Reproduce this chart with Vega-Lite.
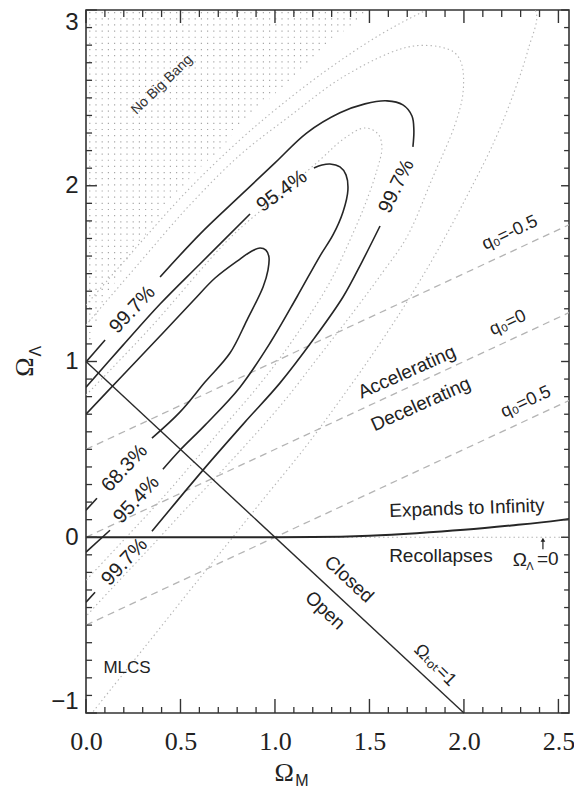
{
  "$schema": "https://vega.github.io/schema/vega-lite/v6.json",
  "width": 483,
  "height": 703,
  "autosize": {"type": "none"},
  "padding": {"left": 86, "top": 10, "right": 5, "bottom": 77},
  "background": "white",
  "config": {"view": {"stroke": "#333", "strokeWidth": 1.6}, "font": "Liberation Sans"},
  "resolve": {"axis": {"x": "independent", "y": "independent"}},
  "datasets": {
    "xmaj": [{"v": 0}, {"v": 0.5}, {"v": 1}, {"v": 1.5}, {"v": 2}, {"v": 2.5}],
    "xmin": [{"v": 0.1}, {"v": 0.2}, {"v": 0.3}, {"v": 0.4}, {"v": 0.6}, {"v": 0.7}, {"v": 0.8}, {"v": 0.9}, {"v": 1.1}, {"v": 1.2}, {"v": 1.3}, {"v": 1.4}, {"v": 1.6}, {"v": 1.7}, {"v": 1.8}, {"v": 1.9}, {"v": 2.1}, {"v": 2.2}, {"v": 2.3}, {"v": 2.4}],
    "ymaj": [{"v": -1}, {"v": 0}, {"v": 1}, {"v": 2}, {"v": 3}],
    "ymin": [{"v": -0.9}, {"v": -0.8}, {"v": -0.7}, {"v": -0.6}, {"v": -0.5}, {"v": -0.4}, {"v": -0.3}, {"v": -0.2}, {"v": -0.1}, {"v": 0.1}, {"v": 0.2}, {"v": 0.3}, {"v": 0.4}, {"v": 0.5}, {"v": 0.6}, {"v": 0.7}, {"v": 0.8}, {"v": 0.9}, {"v": 1.1}, {"v": 1.2}, {"v": 1.3}, {"v": 1.4}, {"v": 1.5}, {"v": 1.6}, {"v": 1.7}, {"v": 1.8}, {"v": 1.9}, {"v": 2.1}, {"v": 2.2}, {"v": 2.3}, {"v": 2.4}, {"v": 2.5}, {"v": 2.6}, {"v": 2.7}, {"v": 2.8}, {"v": 2.9}],
    "stipple": [
      {"y": 2.985, "xs": 0, "xe": 1.474}, {"y": 2.95, "xs": 0, "xe": 1.437}, {"y": 2.915, "xs": 0, "xe": 1.401}, {"y": 2.88, "xs": 0, "xe": 1.364},
      {"y": 2.845, "xs": 0, "xe": 1.327}, {"y": 2.81, "xs": 0, "xe": 1.291}, {"y": 2.775, "xs": 0, "xe": 1.254}, {"y": 2.74, "xs": 0, "xe": 1.217},
      {"y": 2.705, "xs": 0, "xe": 1.18}, {"y": 2.67, "xs": 0, "xe": 1.145}, {"y": 2.635, "xs": 0, "xe": 1.11}, {"y": 2.6, "xs": 0, "xe": 1.075},
      {"y": 2.565, "xs": 0, "xe": 1.04}, {"y": 2.53, "xs": 0, "xe": 1.005}, {"y": 2.495, "xs": 0, "xe": 0.97}, {"y": 2.46, "xs": 0, "xe": 0.935},
      {"y": 2.425, "xs": 0, "xe": 0.9}, {"y": 2.39, "xs": 0, "xe": 0.866}, {"y": 2.355, "xs": 0, "xe": 0.835}, {"y": 2.32, "xs": 0, "xe": 0.803},
      {"y": 2.285, "xs": 0, "xe": 0.772}, {"y": 2.25, "xs": 0, "xe": 0.743}, {"y": 2.215, "xs": 0, "xe": 0.713}, {"y": 2.18, "xs": 0, "xe": 0.68},
      {"y": 2.145, "xs": 0, "xe": 0.645}, {"y": 2.11, "xs": 0, "xe": 0.61}, {"y": 2.075, "xs": 0, "xe": 0.578}, {"y": 2.04, "xs": 0, "xe": 0.546},
      {"y": 2.005, "xs": 0, "xe": 0.515}, {"y": 1.97, "xs": 0, "xe": 0.486}, {"y": 1.935, "xs": 0, "xe": 0.458}, {"y": 1.9, "xs": 0, "xe": 0.43},
      {"y": 1.865, "xs": 0, "xe": 0.407}, {"y": 1.83, "xs": 0, "xe": 0.385}, {"y": 1.795, "xs": 0, "xe": 0.362}, {"y": 1.76, "xs": 0, "xe": 0.339},
      {"y": 1.725, "xs": 0, "xe": 0.316}, {"y": 1.69, "xs": 0, "xe": 0.294}, {"y": 1.655, "xs": 0, "xe": 0.271}, {"y": 1.62, "xs": 0, "xe": 0.248},
      {"y": 1.585, "xs": 0, "xe": 0.227}, {"y": 1.55, "xs": 0, "xe": 0.208}, {"y": 1.515, "xs": 0, "xe": 0.188}, {"y": 1.48, "xs": 0, "xe": 0.169},
      {"y": 1.445, "xs": 0, "xe": 0.15}, {"y": 1.41, "xs": 0, "xe": 0.131}, {"y": 1.375, "xs": 0, "xe": 0.114}, {"y": 1.34, "xs": 0, "xe": 0.098},
      {"y": 1.305, "xs": 0, "xe": 0.082}, {"y": 1.27, "xs": 0, "xe": 0.07}, {"y": 1.235, "xs": 0, "xe": 0.057}, {"y": 1.2, "xs": 0, "xe": 0.045},
      {"y": 1.165, "xs": 0, "xe": 0.036}, {"y": 1.13, "xs": 0, "xe": 0.03}
    ],
    "qlines": [
      {"x": 0, "y": 0.5, "x2": 2.556, "y2": 1.778},
      {"x": 0, "y": 0, "x2": 2.556, "y2": 1.278},
      {"x": 0, "y": -0.5, "x2": 2.556, "y2": 0.778}
    ],
    "flat": [
      {"x": 0, "y": 1, "x2": 2, "y2": -1}
    ],
    "zerodot": [
      {"x": 1.0, "y": 0, "x2": 2.556, "y2": 0}
    ],
    "arrow": [
      {"x": 2.418, "y": -0.068, "y2": -0.014}
    ],
    "solid": [
      {"seg": "o1", "o": 1, "x": 0, "y": 0.997}, {"seg": "o1", "o": 2, "x": 0.101, "y": 1.122},
      {"seg": "o2", "o": 1, "x": 0.392, "y": 1.481}, {"seg": "o2", "o": 2, "x": 0.603, "y": 1.725},
      {"seg": "o2", "o": 3, "x": 0.815, "y": 1.942}, {"seg": "o2", "o": 4, "x": 1.0, "y": 2.13},
      {"seg": "o2", "o": 5, "x": 1.169, "y": 2.301}, {"seg": "o2", "o": 6, "x": 1.344, "y": 2.415},
      {"seg": "o2", "o": 7, "x": 1.476, "y": 2.466}, {"seg": "o2", "o": 8, "x": 1.593, "y": 2.483},
      {"seg": "o2", "o": 9, "x": 1.677, "y": 2.46}, {"seg": "o2", "o": 10, "x": 1.725, "y": 2.397},
      {"seg": "o2", "o": 11, "x": 1.735, "y": 2.318}, {"seg": "o2", "o": 12, "x": 1.73, "y": 2.221},
      {"seg": "o3", "o": 1, "x": 1.556, "y": 1.771}, {"seg": "o3", "o": 2, "x": 1.46, "y": 1.566},
      {"seg": "o3", "o": 3, "x": 1.36, "y": 1.367}, {"seg": "o3", "o": 4, "x": 1.201, "y": 1.122},
      {"seg": "o3", "o": 5, "x": 1.026, "y": 0.877}, {"seg": "o3", "o": 6, "x": 0.841, "y": 0.655},
      {"seg": "o3", "o": 7, "x": 0.619, "y": 0.382}, {"seg": "o3", "o": 8, "x": 0.349, "y": 0.034},
      {"seg": "o4", "o": 1, "x": 0.048, "y": -0.313}, {"seg": "o4", "o": 2, "x": 0, "y": -0.37},
      {"seg": "m1", "o": 1, "x": 0, "y": 0.854}, {"seg": "m1", "o": 2, "x": 0.196, "y": 1.093},
      {"seg": "m1", "o": 3, "x": 0.392, "y": 1.327}, {"seg": "m1", "o": 4, "x": 0.603, "y": 1.555},
      {"seg": "m1", "o": 5, "x": 0.868, "y": 1.839},
      {"seg": "m2", "o": 1, "x": 1.206, "y": 2.101}, {"seg": "m2", "o": 2, "x": 1.249, "y": 2.118},
      {"seg": "m2", "o": 3, "x": 1.291, "y": 2.124}, {"seg": "m2", "o": 4, "x": 1.344, "y": 2.107},
      {"seg": "m2", "o": 5, "x": 1.376, "y": 2.062}, {"seg": "m2", "o": 6, "x": 1.386, "y": 1.976},
      {"seg": "m2", "o": 7, "x": 1.36, "y": 1.851}, {"seg": "m2", "o": 8, "x": 1.307, "y": 1.72},
      {"seg": "m2", "o": 9, "x": 1.238, "y": 1.6}, {"seg": "m2", "o": 10, "x": 1.116, "y": 1.367},
      {"seg": "m2", "o": 11, "x": 0.974, "y": 1.105}, {"seg": "m2", "o": 12, "x": 0.815, "y": 0.854},
      {"seg": "m2", "o": 13, "x": 0.63, "y": 0.638}, {"seg": "m2", "o": 14, "x": 0.497, "y": 0.495},
      {"seg": "m2", "o": 15, "x": 0.407, "y": 0.387},
      {"seg": "m3", "o": 1, "x": 0.127, "y": 0.04}, {"seg": "m3", "o": 2, "x": 0, "y": -0.085},
      {"seg": "i1", "o": 1, "x": 0, "y": 0.7}, {"seg": "i1", "o": 2, "x": 0.18, "y": 0.905},
      {"seg": "i1", "o": 3, "x": 0.392, "y": 1.145}, {"seg": "i1", "o": 4, "x": 0.566, "y": 1.344},
      {"seg": "i1", "o": 5, "x": 0.683, "y": 1.475}, {"seg": "i1", "o": 6, "x": 0.815, "y": 1.583},
      {"seg": "i1", "o": 7, "x": 0.878, "y": 1.629}, {"seg": "i1", "o": 8, "x": 0.921, "y": 1.646},
      {"seg": "i1", "o": 9, "x": 0.952, "y": 1.634}, {"seg": "i1", "o": 10, "x": 0.968, "y": 1.595},
      {"seg": "i1", "o": 11, "x": 0.963, "y": 1.52}, {"seg": "i1", "o": 12, "x": 0.937, "y": 1.424},
      {"seg": "i1", "o": 13, "x": 0.852, "y": 1.236}, {"seg": "i1", "o": 14, "x": 0.762, "y": 1.048},
      {"seg": "i1", "o": 15, "x": 0.63, "y": 0.883}, {"seg": "i1", "o": 16, "x": 0.497, "y": 0.712},
      {"seg": "i1", "o": 17, "x": 0.349, "y": 0.564},
      {"seg": "i2", "o": 1, "x": 0.058, "y": 0.222}, {"seg": "i2", "o": 2, "x": 0, "y": 0.154}
    ],
    "dotted": [
      {"seg": "d1", "o": 1, "x": 0, "y": 0.809}, {"seg": "d1", "o": 2, "x": 0.339, "y": 1.19},
      {"seg": "d1", "o": 3, "x": 0.762, "y": 1.703}, {"seg": "d1", "o": 4, "x": 1.026, "y": 1.948},
      {"seg": "d1", "o": 5, "x": 1.238, "y": 2.147}, {"seg": "d1", "o": 6, "x": 1.37, "y": 2.272},
      {"seg": "d1", "o": 7, "x": 1.476, "y": 2.329}, {"seg": "d1", "o": 8, "x": 1.545, "y": 2.295},
      {"seg": "d1", "o": 9, "x": 1.566, "y": 2.221}, {"seg": "d1", "o": 10, "x": 1.54, "y": 2.09},
      {"seg": "d1", "o": 11, "x": 1.476, "y": 1.891}, {"seg": "d1", "o": 12, "x": 1.397, "y": 1.691},
      {"seg": "d1", "o": 13, "x": 1.291, "y": 1.452}, {"seg": "d1", "o": 14, "x": 1.159, "y": 1.224},
      {"seg": "d1", "o": 15, "x": 1.026, "y": 1.019}, {"seg": "d1", "o": 16, "x": 0.894, "y": 0.837},
      {"seg": "d1", "o": 17, "x": 0.735, "y": 0.638}, {"seg": "d1", "o": 18, "x": 0.577, "y": 0.438},
      {"seg": "d1", "o": 19, "x": 0.418, "y": 0.239}, {"seg": "d1", "o": 20, "x": 0.233, "y": 0.023},
      {"seg": "d1", "o": 21, "x": 0, "y": -0.245},
      {"seg": "d2", "o": 1, "x": 0, "y": 1.207}, {"seg": "d2", "o": 2, "x": 0.286, "y": 1.566},
      {"seg": "d2", "o": 3, "x": 0.55, "y": 1.891}, {"seg": "d2", "o": 4, "x": 0.815, "y": 2.175},
      {"seg": "d2", "o": 5, "x": 1.079, "y": 2.397}, {"seg": "d2", "o": 6, "x": 1.344, "y": 2.608},
      {"seg": "d2", "o": 7, "x": 1.608, "y": 2.756}, {"seg": "d2", "o": 8, "x": 1.741, "y": 2.796},
      {"seg": "d2", "o": 9, "x": 1.873, "y": 2.79}, {"seg": "d2", "o": 10, "x": 1.952, "y": 2.756},
      {"seg": "d2", "o": 11, "x": 1.989, "y": 2.688}, {"seg": "d2", "o": 12, "x": 1.995, "y": 2.528},
      {"seg": "d2", "o": 13, "x": 1.952, "y": 2.346}, {"seg": "d2", "o": 14, "x": 1.836, "y": 2.05},
      {"seg": "d2", "o": 15, "x": 1.698, "y": 1.708}, {"seg": "d2", "o": 16, "x": 1.571, "y": 1.509},
      {"seg": "d2", "o": 17, "x": 1.423, "y": 1.293}, {"seg": "d2", "o": 18, "x": 1.238, "y": 1.036},
      {"seg": "d2", "o": 19, "x": 1.053, "y": 0.78}, {"seg": "d2", "o": 20, "x": 0.868, "y": 0.552},
      {"seg": "d2", "o": 21, "x": 0.683, "y": 0.336}, {"seg": "d2", "o": 22, "x": 0.497, "y": 0.125},
      {"seg": "d2", "o": 23, "x": 0.312, "y": -0.091}, {"seg": "d2", "o": 24, "x": 0.127, "y": -0.302},
      {"seg": "d2", "o": 25, "x": 0, "y": -0.45},
      {"seg": "d3", "o": 1, "x": 0, "y": 1.321}, {"seg": "d3", "o": 2, "x": 0.286, "y": 1.674},
      {"seg": "d3", "o": 3, "x": 0.55, "y": 1.987}, {"seg": "d3", "o": 4, "x": 0.815, "y": 2.261},
      {"seg": "d3", "o": 5, "x": 1.026, "y": 2.454}, {"seg": "d3", "o": 6, "x": 1.291, "y": 2.671},
      {"seg": "d3", "o": 7, "x": 1.556, "y": 2.859}, {"seg": "d3", "o": 8, "x": 1.804, "y": 3.001},
      {"seg": "d3", "o": 9, "x": 2.032, "y": 3.104}, {"seg": "d3", "o": 10, "x": 2.27, "y": 3.075},
      {"seg": "d3", "o": 11, "x": 2.381, "y": 2.99}, {"seg": "d3", "o": 12, "x": 2.339, "y": 2.773},
      {"seg": "d3", "o": 13, "x": 2.27, "y": 2.546}, {"seg": "d3", "o": 14, "x": 2.164, "y": 2.261},
      {"seg": "d3", "o": 15, "x": 2.005, "y": 1.919}, {"seg": "d3", "o": 16, "x": 1.847, "y": 1.606},
      {"seg": "d3", "o": 17, "x": 1.688, "y": 1.321}, {"seg": "d3", "o": 18, "x": 1.513, "y": 1.036},
      {"seg": "d3", "o": 19, "x": 1.333, "y": 0.763}, {"seg": "d3", "o": 20, "x": 1.148, "y": 0.495},
      {"seg": "d3", "o": 21, "x": 0.947, "y": 0.228}, {"seg": "d3", "o": 22, "x": 0.751, "y": -0.034},
      {"seg": "d3", "o": 23, "x": 0.55, "y": -0.302}, {"seg": "d3", "o": 24, "x": 0.339, "y": -0.587},
      {"seg": "d3", "o": 25, "x": 0.127, "y": -0.871}, {"seg": "d3", "o": 26, "x": 0.032, "y": -1.0}
    ],
    "recollapse": [
      {"x": 0, "y": 0}, {"x": 1.0, "y": 0}, {"x": 1.2, "y": 0.001}, {"x": 1.5, "y": 0.009},
      {"x": 1.75, "y": 0.023}, {"x": 2.0, "y": 0.042}, {"x": 2.25, "y": 0.067}, {"x": 2.5, "y": 0.096},
      {"x": 2.556, "y": 0.104}
    ],
    "lab47": [
      {"t": "99.7%", "x": 0.246, "y": 1.295},
      {"t": "68.3%", "x": 0.204, "y": 0.393},
      {"t": "95.4%", "x": 0.267, "y": 0.214},
      {"t": "99.7%", "x": 0.204, "y": -0.14}
    ],
    "lab36": [{"t": "95.4%", "x": 1.037, "y": 1.97}],
    "lab64": [{"t": "99.7%", "x": 1.643, "y": 1.996}],
    "lab24": [
      {"t": "Accelerating", "x": 1.698, "y": 0.94},
      {"t": "Decelerating", "x": 1.772, "y": 0.757}
    ],
    "labq": [
      {"t": "q₀=-0.5", "x": 2.243, "y": 1.731},
      {"t": "q₀=0", "x": 2.233, "y": 1.219},
      {"t": "q₀=0.5", "x": 2.328, "y": 0.769}
    ],
    "labexp": [{"t": "Expands to Infinity", "x": 2.016, "y": 0.165}],
    "labh": [
      {"t": "Recollapses", "x": 1.878, "y": -0.108},
      {"t": "Ω", "x": 2.296, "y": -0.13},
      {"t": "=0", "x": 2.444, "y": -0.125}
    ],
    "labhsub": [{"t": "Λ", "x": 2.349, "y": -0.17}],
    "lab43": [
      {"t": "Closed", "x": 1.392, "y": -0.239},
      {"t": "Open", "x": 1.265, "y": -0.416}
    ],
    "labtot": [{"t": "Ωₜₒₜ=1", "x": 1.847, "y": -0.729}],
    "labnbb": [{"t": "No Big Bang", "x": 0.402, "y": 2.574}],
    "labmlcs": [{"t": "MLCS", "x": 0.217, "y": -0.746}],
    "xtitle": [{"t": "Ω", "x": 1.048, "y": -1.339}],
    "xtitlesub": [{"t": "M", "x": 1.143, "y": -1.385}],
    "ytitle": [{"t": "Ω", "x": -0.323, "y": 0.968}],
    "ytitlesub": [{"t": "Λ", "x": -0.265, "y": 1.059}]
  },
  "layer": [
    {
      "data": {"name": "stipple"},
      "mark": {"type": "rule", "stroke": "#a8a8a8", "strokeWidth": 1.2, "strokeDash": [1.2, 5], "strokeDashOffset": 3},
      "encoding": {
        "x": {"field": "xs", "type": "quantitative", "scale": {"domain": [0, 2.556], "nice": false, "zero": false}, "axis": null},
        "x2": {"field": "xe"},
        "y": {"field": "y", "type": "quantitative", "scale": {"domain": [-1, 3], "nice": false, "zero": false}, "axis": null}
      }
    },
    {
      "data": {"name": "qlines"},
      "mark": {"type": "rule", "stroke": "#b4b4b4", "strokeWidth": 1.3, "strokeDash": [7, 5], "clip": true},
      "encoding": {
        "x": {"field": "x", "type": "quantitative", "scale": {"domain": [0, 2.556], "nice": false, "zero": false}, "axis": null},
        "x2": {"field": "x2"},
        "y": {"field": "y", "type": "quantitative", "scale": {"domain": [-1, 3], "nice": false, "zero": false}, "axis": null},
        "y2": {"field": "y2"}
      }
    },
    {
      "data": {"name": "zerodot"},
      "mark": {"type": "rule", "stroke": "#b4b4b4", "strokeWidth": 1.2, "strokeDash": [1.5, 3]},
      "encoding": {
        "x": {"field": "x", "type": "quantitative", "scale": {"domain": [0, 2.556], "nice": false, "zero": false}, "axis": null},
        "x2": {"field": "x2"},
        "y": {"field": "y", "type": "quantitative", "scale": {"domain": [-1, 3], "nice": false, "zero": false}, "axis": null},
        "y2": {"field": "y2"}
      }
    },
    {
      "data": {"name": "dotted"},
      "mark": {"type": "line", "stroke": "#b4b4b4", "strokeWidth": 1.1, "strokeDash": [1.4, 3], "interpolate": "catmull-rom", "clip": true},
      "encoding": {
        "x": {"field": "x", "type": "quantitative", "scale": {"domain": [0, 2.556], "nice": false, "zero": false}, "axis": null},
        "y": {"field": "y", "type": "quantitative", "scale": {"domain": [-1, 3], "nice": false, "zero": false}, "axis": null},
        "detail": {"field": "seg", "type": "nominal"},
        "order": {"field": "o", "type": "quantitative"}
      }
    },
    {
      "data": {"name": "flat"},
      "mark": {"type": "rule", "stroke": "#2a2a2a", "strokeWidth": 1.4},
      "encoding": {
        "x": {"field": "x", "type": "quantitative", "scale": {"domain": [0, 2.556], "nice": false, "zero": false}, "axis": null},
        "x2": {"field": "x2"},
        "y": {"field": "y", "type": "quantitative", "scale": {"domain": [-1, 3], "nice": false, "zero": false}, "axis": null},
        "y2": {"field": "y2"}
      }
    },
    {
      "data": {"name": "solid"},
      "mark": {"type": "line", "stroke": "#262626", "strokeWidth": 1.6, "interpolate": "catmull-rom", "clip": true},
      "encoding": {
        "x": {"field": "x", "type": "quantitative", "scale": {"domain": [0, 2.556], "nice": false, "zero": false},
          "axis": {"orient": "bottom", "values": [0, 0.5, 1, 1.5, 2, 2.5], "format": ".1f", "ticks": false, "domain": false, "labels": true, "labelFont": "Liberation Serif", "labelFontSize": 26, "labelColor": "#222", "labelPadding": 15, "labelFlush": false, "grid": false, "title": null}},
        "y": {"field": "y", "type": "quantitative", "scale": {"domain": [-1, 3], "nice": false, "zero": false},
          "axis": {"orient": "left", "values": [-1, 0, 1, 2, 3], "format": "d", "ticks": false, "domain": false, "labels": true, "labelFont": "Liberation Sans", "labelFontSize": 24, "labelColor": "#222", "labelPadding": 8, "labelFlush": true, "grid": false, "title": null}},
        "detail": {"field": "seg", "type": "nominal"},
        "order": {"field": "o", "type": "quantitative"}
      }
    },
    {
      "data": {"name": "recollapse"},
      "mark": {"type": "line", "stroke": "#262626", "strokeWidth": 2, "interpolate": "monotone", "clip": true},
      "encoding": {
        "x": {"field": "x", "type": "quantitative", "scale": {"domain": [0, 2.556], "nice": false, "zero": false}, "axis": null},
        "y": {"field": "y", "type": "quantitative", "scale": {"domain": [-1, 3], "nice": false, "zero": false}, "axis": null}
      }
    },
    {
      "data": {"name": "xmaj"},
      "mark": {"type": "rule", "stroke": "#333", "strokeWidth": 1.4},
      "encoding": {
        "x": {"field": "v", "type": "quantitative", "scale": {"domain": [0, 2.556], "nice": false, "zero": false}, "axis": null},
        "y": {"datum": -1, "type": "quantitative", "scale": {"domain": [-1, 3], "nice": false, "zero": false}, "axis": null},
        "y2": {"datum": -0.92}
      }
    },
    {
      "data": {"name": "xmin"},
      "mark": {"type": "rule", "stroke": "#333", "strokeWidth": 1.3},
      "encoding": {
        "x": {"field": "v", "type": "quantitative", "scale": {"domain": [0, 2.556], "nice": false, "zero": false}, "axis": null},
        "y": {"datum": -1, "type": "quantitative", "scale": {"domain": [-1, 3], "nice": false, "zero": false}, "axis": null},
        "y2": {"datum": -0.966}
      }
    },
    {
      "data": {"name": "xmaj"},
      "mark": {"type": "rule", "stroke": "#333", "strokeWidth": 1.4},
      "encoding": {
        "x": {"field": "v", "type": "quantitative", "scale": {"domain": [0, 2.556], "nice": false, "zero": false}, "axis": null},
        "y": {"datum": 3, "type": "quantitative", "scale": {"domain": [-1, 3], "nice": false, "zero": false}, "axis": null},
        "y2": {"datum": 2.926}
      }
    },
    {
      "data": {"name": "xmin"},
      "mark": {"type": "rule", "stroke": "#333", "strokeWidth": 1.3},
      "encoding": {
        "x": {"field": "v", "type": "quantitative", "scale": {"domain": [0, 2.556], "nice": false, "zero": false}, "axis": null},
        "y": {"datum": 3, "type": "quantitative", "scale": {"domain": [-1, 3], "nice": false, "zero": false}, "axis": null},
        "y2": {"datum": 2.96}
      }
    },
    {
      "data": {"name": "ymaj"},
      "mark": {"type": "rule", "stroke": "#333", "strokeWidth": 1.4},
      "encoding": {
        "y": {"field": "v", "type": "quantitative", "scale": {"domain": [-1, 3], "nice": false, "zero": false}, "axis": null},
        "x": {"datum": 0, "type": "quantitative", "scale": {"domain": [0, 2.556], "nice": false, "zero": false}, "axis": null},
        "x2": {"datum": 0.058}
      }
    },
    {
      "data": {"name": "ymin"},
      "mark": {"type": "rule", "stroke": "#333", "strokeWidth": 1.3},
      "encoding": {
        "y": {"field": "v", "type": "quantitative", "scale": {"domain": [-1, 3], "nice": false, "zero": false}, "axis": null},
        "x": {"datum": 0, "type": "quantitative", "scale": {"domain": [0, 2.556], "nice": false, "zero": false}, "axis": null},
        "x2": {"datum": 0.032}
      }
    },
    {
      "data": {"name": "ymaj"},
      "mark": {"type": "rule", "stroke": "#333", "strokeWidth": 1.4},
      "encoding": {
        "y": {"field": "v", "type": "quantitative", "scale": {"domain": [-1, 3], "nice": false, "zero": false}, "axis": null},
        "x": {"datum": 2.556, "type": "quantitative", "scale": {"domain": [0, 2.556], "nice": false, "zero": false}, "axis": null},
        "x2": {"datum": 2.514}
      }
    },
    {
      "data": {"name": "ymin"},
      "mark": {"type": "rule", "stroke": "#333", "strokeWidth": 1.3},
      "encoding": {
        "y": {"field": "v", "type": "quantitative", "scale": {"domain": [-1, 3], "nice": false, "zero": false}, "axis": null},
        "x": {"datum": 2.556, "type": "quantitative", "scale": {"domain": [0, 2.556], "nice": false, "zero": false}, "axis": null},
        "x2": {"datum": 2.53}
      }
    },
    {
      "data": {"name": "arrow"},
      "mark": {"type": "rule", "stroke": "#222", "strokeWidth": 1.2},
      "encoding": {
        "x": {"field": "x", "type": "quantitative", "scale": {"domain": [0, 2.556], "nice": false, "zero": false}, "axis": null},
        "y": {"field": "y", "type": "quantitative", "scale": {"domain": [-1, 3], "nice": false, "zero": false}, "axis": null},
        "y2": {"field": "y2"}
      }
    },
    {
      "data": {"name": "arrow"},
      "mark": {"type": "point", "shape": "triangle-up", "size": 22, "filled": true, "color": "#222", "opacity": 1},
      "encoding": {
        "x": {"field": "x", "type": "quantitative", "scale": {"domain": [0, 2.556], "nice": false, "zero": false}, "axis": null},
        "y": {"field": "y2", "type": "quantitative", "scale": {"domain": [-1, 3], "nice": false, "zero": false}, "axis": null}
      }
    },
    {
      "data": {"name": "lab47"},
      "mark": {"type": "text", "font": "Liberation Sans", "fontSize": 20, "angle": -47, "align": "center", "baseline": "middle", "color": "#222"},
      "encoding": {
        "x": {"field": "x", "type": "quantitative", "scale": {"domain": [0, 2.556], "nice": false, "zero": false}, "axis": null},
        "y": {"field": "y", "type": "quantitative", "scale": {"domain": [-1, 3], "nice": false, "zero": false}, "axis": null},
        "text": {"field": "t", "type": "nominal"}
      }
    },
    {
      "data": {"name": "lab36"},
      "mark": {"type": "text", "font": "Liberation Sans", "fontSize": 20, "angle": -36, "align": "center", "baseline": "middle", "color": "#222"},
      "encoding": {
        "x": {"field": "x", "type": "quantitative", "scale": {"domain": [0, 2.556], "nice": false, "zero": false}, "axis": null},
        "y": {"field": "y", "type": "quantitative", "scale": {"domain": [-1, 3], "nice": false, "zero": false}, "axis": null},
        "text": {"field": "t", "type": "nominal"}
      }
    },
    {
      "data": {"name": "lab64"},
      "mark": {"type": "text", "font": "Liberation Sans", "fontSize": 20, "angle": -64, "align": "center", "baseline": "middle", "color": "#222"},
      "encoding": {
        "x": {"field": "x", "type": "quantitative", "scale": {"domain": [0, 2.556], "nice": false, "zero": false}, "axis": null},
        "y": {"field": "y", "type": "quantitative", "scale": {"domain": [-1, 3], "nice": false, "zero": false}, "axis": null},
        "text": {"field": "t", "type": "nominal"}
      }
    },
    {
      "data": {"name": "lab24"},
      "mark": {"type": "text", "font": "Liberation Sans", "fontSize": 19, "angle": -24, "align": "center", "baseline": "middle", "color": "#222"},
      "encoding": {
        "x": {"field": "x", "type": "quantitative", "scale": {"domain": [0, 2.556], "nice": false, "zero": false}, "axis": null},
        "y": {"field": "y", "type": "quantitative", "scale": {"domain": [-1, 3], "nice": false, "zero": false}, "axis": null},
        "text": {"field": "t", "type": "nominal"}
      }
    },
    {
      "data": {"name": "labq"},
      "mark": {"type": "text", "font": "Liberation Sans, DejaVu Sans", "fontSize": 18, "angle": -25, "align": "center", "baseline": "middle", "color": "#222"},
      "encoding": {
        "x": {"field": "x", "type": "quantitative", "scale": {"domain": [0, 2.556], "nice": false, "zero": false}, "axis": null},
        "y": {"field": "y", "type": "quantitative", "scale": {"domain": [-1, 3], "nice": false, "zero": false}, "axis": null},
        "text": {"field": "t", "type": "nominal"}
      }
    },
    {
      "data": {"name": "labexp"},
      "mark": {"type": "text", "font": "Liberation Sans", "fontSize": 19, "angle": -2, "align": "center", "baseline": "middle", "color": "#222"},
      "encoding": {
        "x": {"field": "x", "type": "quantitative", "scale": {"domain": [0, 2.556], "nice": false, "zero": false}, "axis": null},
        "y": {"field": "y", "type": "quantitative", "scale": {"domain": [-1, 3], "nice": false, "zero": false}, "axis": null},
        "text": {"field": "t", "type": "nominal"}
      }
    },
    {
      "data": {"name": "labh"},
      "mark": {"type": "text", "font": "Liberation Sans", "fontSize": 19, "align": "center", "baseline": "middle", "color": "#222"},
      "encoding": {
        "x": {"field": "x", "type": "quantitative", "scale": {"domain": [0, 2.556], "nice": false, "zero": false}, "axis": null},
        "y": {"field": "y", "type": "quantitative", "scale": {"domain": [-1, 3], "nice": false, "zero": false}, "axis": null},
        "text": {"field": "t", "type": "nominal"}
      }
    },
    {
      "data": {"name": "labhsub"},
      "mark": {"type": "text", "font": "Liberation Sans", "fontSize": 11, "align": "center", "baseline": "middle", "color": "#222"},
      "encoding": {
        "x": {"field": "x", "type": "quantitative", "scale": {"domain": [0, 2.556], "nice": false, "zero": false}, "axis": null},
        "y": {"field": "y", "type": "quantitative", "scale": {"domain": [-1, 3], "nice": false, "zero": false}, "axis": null},
        "text": {"field": "t", "type": "nominal"}
      }
    },
    {
      "data": {"name": "lab43"},
      "mark": {"type": "text", "font": "Liberation Sans", "fontSize": 19, "angle": 43, "align": "center", "baseline": "middle", "color": "#222"},
      "encoding": {
        "x": {"field": "x", "type": "quantitative", "scale": {"domain": [0, 2.556], "nice": false, "zero": false}, "axis": null},
        "y": {"field": "y", "type": "quantitative", "scale": {"domain": [-1, 3], "nice": false, "zero": false}, "axis": null},
        "text": {"field": "t", "type": "nominal"}
      }
    },
    {
      "data": {"name": "labtot"},
      "mark": {"type": "text", "font": "Liberation Sans, DejaVu Sans", "fontSize": 18, "angle": 45, "align": "center", "baseline": "middle", "color": "#222"},
      "encoding": {
        "x": {"field": "x", "type": "quantitative", "scale": {"domain": [0, 2.556], "nice": false, "zero": false}, "axis": null},
        "y": {"field": "y", "type": "quantitative", "scale": {"domain": [-1, 3], "nice": false, "zero": false}, "axis": null},
        "text": {"field": "t", "type": "nominal"}
      }
    },
    {
      "data": {"name": "labnbb"},
      "mark": {"type": "text", "font": "Liberation Sans", "fontSize": 14, "angle": -44, "align": "center", "baseline": "middle", "color": "#333"},
      "encoding": {
        "x": {"field": "x", "type": "quantitative", "scale": {"domain": [0, 2.556], "nice": false, "zero": false}, "axis": null},
        "y": {"field": "y", "type": "quantitative", "scale": {"domain": [-1, 3], "nice": false, "zero": false}, "axis": null},
        "text": {"field": "t", "type": "nominal"}
      }
    },
    {
      "data": {"name": "labmlcs"},
      "mark": {"type": "text", "font": "Liberation Sans", "fontSize": 17, "align": "center", "baseline": "middle", "color": "#222"},
      "encoding": {
        "x": {"field": "x", "type": "quantitative", "scale": {"domain": [0, 2.556], "nice": false, "zero": false}, "axis": null},
        "y": {"field": "y", "type": "quantitative", "scale": {"domain": [-1, 3], "nice": false, "zero": false}, "axis": null},
        "text": {"field": "t", "type": "nominal"}
      }
    },
    {
      "data": {"name": "xtitle"},
      "mark": {"type": "text", "font": "Liberation Serif", "fontSize": 26, "align": "center", "baseline": "middle", "color": "#222"},
      "encoding": {
        "x": {"field": "x", "type": "quantitative", "scale": {"domain": [0, 2.556], "nice": false, "zero": false}, "axis": null},
        "y": {"field": "y", "type": "quantitative", "scale": {"domain": [-1, 3], "nice": false, "zero": false}, "axis": null},
        "text": {"field": "t", "type": "nominal"}
      }
    },
    {
      "data": {"name": "xtitlesub"},
      "mark": {"type": "text", "font": "Liberation Sans", "fontSize": 16, "align": "center", "baseline": "middle", "color": "#222"},
      "encoding": {
        "x": {"field": "x", "type": "quantitative", "scale": {"domain": [0, 2.556], "nice": false, "zero": false}, "axis": null},
        "y": {"field": "y", "type": "quantitative", "scale": {"domain": [-1, 3], "nice": false, "zero": false}, "axis": null},
        "text": {"field": "t", "type": "nominal"}
      }
    },
    {
      "data": {"name": "ytitle"},
      "mark": {"type": "text", "font": "Liberation Serif", "fontSize": 26, "angle": -90, "align": "center", "baseline": "middle", "color": "#222"},
      "encoding": {
        "x": {"field": "x", "type": "quantitative", "scale": {"domain": [0, 2.556], "nice": false, "zero": false}, "axis": null},
        "y": {"field": "y", "type": "quantitative", "scale": {"domain": [-1, 3], "nice": false, "zero": false}, "axis": null},
        "text": {"field": "t", "type": "nominal"}
      }
    },
    {
      "data": {"name": "ytitlesub"},
      "mark": {"type": "text", "font": "Liberation Sans", "fontSize": 16, "angle": -90, "align": "center", "baseline": "middle", "color": "#222"},
      "encoding": {
        "x": {"field": "x", "type": "quantitative", "scale": {"domain": [0, 2.556], "nice": false, "zero": false}, "axis": null},
        "y": {"field": "y", "type": "quantitative", "scale": {"domain": [-1, 3], "nice": false, "zero": false}, "axis": null},
        "text": {"field": "t", "type": "nominal"}
      }
    }
  ]
}
